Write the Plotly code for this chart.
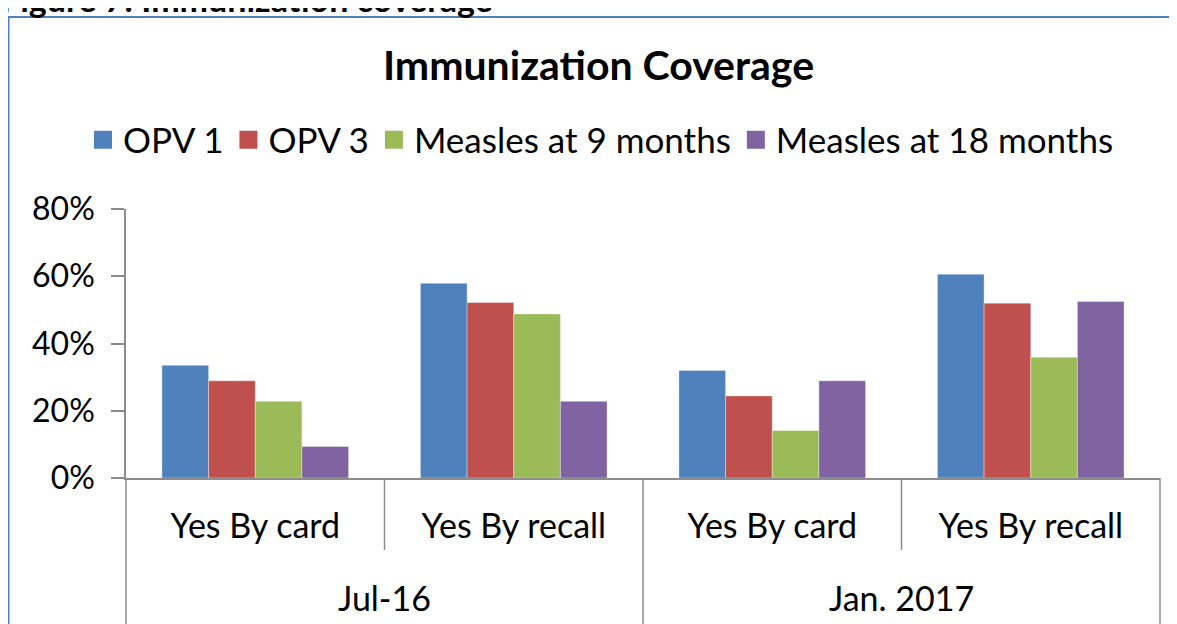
import plotly.graph_objects as go

periods = ["Jul-16", "Jan. 2017"]
methods = ["Yes By card", "Yes By recall"]
series_names = ["OPV 1", "OPV 3", "Measles at 9 months", "Measles at 18 months"]
opv1 = [0.335, 0.579, 0.320, 0.606]
opv3 = [0.289, 0.522, 0.244, 0.520]
measles9 = [0.228, 0.488, 0.141, 0.359]
measles18 = [0.094, 0.228, 0.289, 0.525]
colors = ["#4F81BD", "#C0504D", "#9BBB59", "#8064A2"]

cats = [p + " · " + m for p in periods for m in methods]
tick_text = [m for p in periods for m in methods]

OFF = 8  # page body margin
W, H = 1177 - OFF, 624 - OFF
L, R, T, B = 126 - OFF, 17, 209 - OFF, 146
pw = W - L - R
ph = H - T - B
FONT = "Lato"

def py(px):  # page pixel y -> paper y
    return (H - B - (px - OFF)) / ph

def pxx(px):  # page pixel x -> paper x
    return ((px - OFF) - L) / pw

fig = go.Figure()
for name, vals, col in zip(series_names, [opv1, opv3, measles9, measles18], colors):
    fig.add_trace(go.Bar(x=cats, y=vals, name=name, showlegend=False,
                         marker=dict(color=col, line=dict(color="rgba(255,255,255,0.35)", width=1))))
for name, col in zip(series_names, colors):
    fig.add_trace(go.Scatter(x=[None], y=[None], mode="markers", name=name,
                             marker=dict(symbol="square", size=16, color=col,
                                         line=dict(color=col, width=2))))

axis_col = "#8c8c8c"
fig.update_layout(
    width=W, height=H, autosize=False,
    margin=dict(l=L, r=R, t=T, b=B),
    paper_bgcolor="white", plot_bgcolor="white",
    font=dict(family=FONT, size=34, color="black"),
    barmode="group", bargap=0.278, bargroupgap=0,
    showlegend=True,
    legend=dict(orientation="h", x=pxx(83), xanchor="left", xref="paper",
                y=py(140), yanchor="middle",
                font=dict(family=FONT, size=35, color="black"),
                bgcolor="rgba(0,0,0,0)"),
    title=dict(text="<b>Immunization Coverage</b>", x=pxx(598.5), xref="paper", xanchor="center",
               y=1 - (66 - OFF) / H, yref="container", yanchor="middle",
               font=dict(family=FONT, size=41, color="black")),
    xaxis=dict(type="category", tickvals=cats, ticktext=tick_text, showgrid=False,
               showline=True, linecolor=axis_col, linewidth=1.5, ticks="", ticklabelstandoff=17,
               tickfont=dict(family=FONT, size=34, color="black"), zeroline=False),
    yaxis=dict(range=[0, 0.8], dtick=0.2, tickformat=".0%", showgrid=False, zeroline=False,
               showline=True, linecolor=axis_col, linewidth=1.5, ticks="outside", ticklen=13,
               tickcolor=axis_col, tickwidth=1.5, ticklabelstandoff=10,
               tickfont=dict(family=FONT, size=32, color="black")),
)

# dividers under the category axis
for xd in [0, 0.5, 1]:
    fig.add_shape(type="line", xref="x domain", yref="y domain", x0=xd, x1=xd, y0=0, y1=-0.7,
                  line=dict(color=axis_col, width=1.5))
for xd in [0.25, 0.75]:
    fig.add_shape(type="line", xref="x domain", yref="y domain", x0=xd, x1=xd, y0=0, y1=py(550),
                  line=dict(color=axis_col, width=1.5))

# outer category labels
for i, p in enumerate(periods):
    fig.add_annotation(text=p, xref="x domain", yref="y domain", x=0.25 + 0.5 * i, y=py(597),
                       xanchor="center", yanchor="middle", showarrow=False,
                       font=dict(family=FONT, size=34, color="black"))

# outer frame of the chart
fig.add_shape(type="rect", xref="paper", yref="paper", x0=pxx(8.5), x1=pxx(1300),
              y0=py(800), y1=py(17), line=dict(color="#4F81BD", width=2), fillcolor="rgba(0,0,0,0)",
              layer="below")

# figure caption, cut at the top
fig.add_annotation(text="<b>Figure 7: Immunization coverage</b>", xref="paper", yref="paper",
                   x=pxx(-1), y=py(-1), xanchor="left", yanchor="middle", showarrow=False,
                   font=dict(family=FONT, size=34, color="black"))

fig.write_html("out.html")
